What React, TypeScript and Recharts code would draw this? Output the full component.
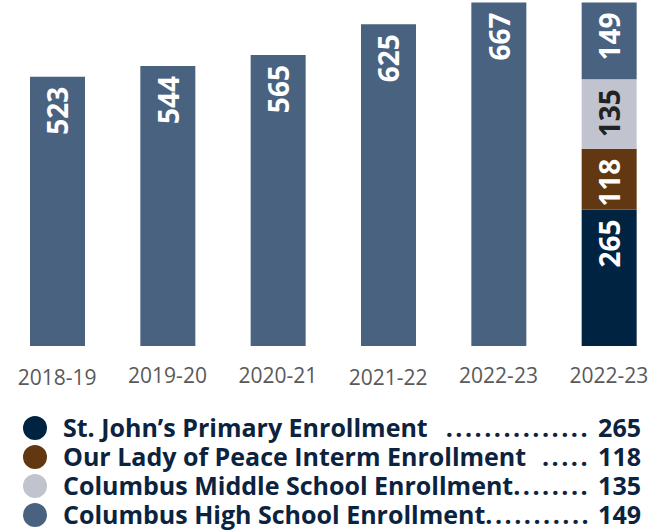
import React from 'react';
import { Bar, BarChart, LabelList, XAxis, YAxis } from 'recharts';

const categories = ['2018-19', '2019-20', '2020-21', '2021-22', '2022-23', '2022-23'];
const totalEnrollment = [523, 544, 565, 625, 667, null];
const primaryEnrollment = [null, null, null, null, null, 265];
const intermEnrollment = [null, null, null, null, null, 118];
const middleEnrollment = [null, null, null, null, null, 135];
const highEnrollment = [null, null, null, null, null, 149];

const legendNames = [
  'St. John\u2019s Primary Enrollment',
  'Our Lady of Peace Interm Enrollment',
  'Columbus Middle School Enrollment',
  'Columbus High School Enrollment',
];
const legendLeaders = ['...............', '.....', '........', '...........'];
const legendValues = [265, 118, 135, 149];

const SLATE = '#49627f';
const NAVY = '#002341';
const BROWN = '#613812';
const GRAY = '#c1c3cf';
const TEXT = '#0c2340';
const FONT = '"Open Sans", sans-serif';

// tiny vertical jitter of the year labels in the original
const tickJitter = [2, 0, 0, 2, 0, 0];

const data = categories.map((category, i) => ({
  category,
  total: totalEnrollment[i],
  primary: primaryEnrollment[i],
  interm: intermEnrollment[i],
  middle: middleEnrollment[i],
  high: highEnrollment[i],
}));

const barLabel = (fill: string) => (props: any) => {
  const { x, y, width, value } = props;
  if (value == null || value === 0) return null;
  const cx = x + width / 2;
  const ty = y + 10;
  return (
    <text
      x={cx}
      y={ty}
      transform={`rotate(-90 ${cx} ${ty})`}
      textAnchor="end"
      dominantBaseline="central"
      fill={fill}
      fontSize={28}
      fontWeight={700}
      fontFamily={FONT}
    >
      {value}
    </text>
  );
};

const YearTick = (props: any) => {
  const { x, y, payload, index } = props;
  return (
    <text
      x={x}
      y={y}
      dy={21 + (tickJitter[index] || 0)}
      textAnchor="middle"
      dominantBaseline="central"
      fill="#595959"
      fontSize={21}
      fontFamily={FONT}
    >
      {payload.value}
    </text>
  );
};

const legendColors = [NAVY, BROWN, GRAY, SLATE];

const App = () => (
  <div
    style={{
      position: 'absolute',
      left: 0,
      top: 0,
      width: 654,
      height: 531,
      overflow: 'hidden',
      background: '#fff',
    }}
  >
    <BarChart
      width={666}
      height={400}
      data={data}
      margin={{ top: 0, right: 2, left: 2, bottom: 0 }}
    >
      <XAxis
        dataKey="category"
        axisLine={false}
        tickLine={false}
        height={54}
        interval={0}
        tick={<YearTick />}
      />
      <YAxis hide domain={[0, 672]} />
      <Bar dataKey="total" stackId="a" fill={SLATE} barSize={55} isAnimationActive={false}>
        <LabelList dataKey="total" content={barLabel('#fff')} />
      </Bar>
      <Bar dataKey="primary" stackId="a" fill={NAVY} barSize={55} isAnimationActive={false}>
        <LabelList dataKey="primary" content={barLabel('#fff')} />
      </Bar>
      <Bar dataKey="interm" stackId="a" fill={BROWN} barSize={55} isAnimationActive={false}>
        <LabelList dataKey="interm" content={barLabel('#fff')} />
      </Bar>
      <Bar dataKey="middle" stackId="a" fill={GRAY} barSize={55} isAnimationActive={false}>
        <LabelList dataKey="middle" content={barLabel('#222')} />
      </Bar>
      <Bar dataKey="high" stackId="a" fill={SLATE} barSize={55} isAnimationActive={false}>
        <LabelList dataKey="high" content={barLabel('#fff')} />
      </Bar>
    </BarChart>
    <div style={{ position: 'absolute', left: 23, top: 413, width: 618 }}>
      {legendNames.map((name, i) => (
        <div
          key={name}
          style={{
            display: 'flex',
            alignItems: 'center',
            height: 29,
            lineHeight: '29px',
            fontFamily: FONT,
            fontWeight: 700,
            fontSize: 25,
            color: TEXT,
            whiteSpace: 'nowrap',
          }}
        >
          <span
            style={{
              width: 24,
              height: 24,
              borderRadius: 12,
              background: legendColors[i],
              marginRight: 16,
              flex: 'none',
            }}
          />
          <span>{name}</span>
          <span style={{ flex: 1, minWidth: 0, textAlign: 'right', letterSpacing: 2.5 }}>
            {legendLeaders[i]}
          </span>
          <span style={{ marginLeft: 8 }}>{legendValues[i]}</span>
        </div>
      ))}
    </div>
  </div>
);

export default App;
